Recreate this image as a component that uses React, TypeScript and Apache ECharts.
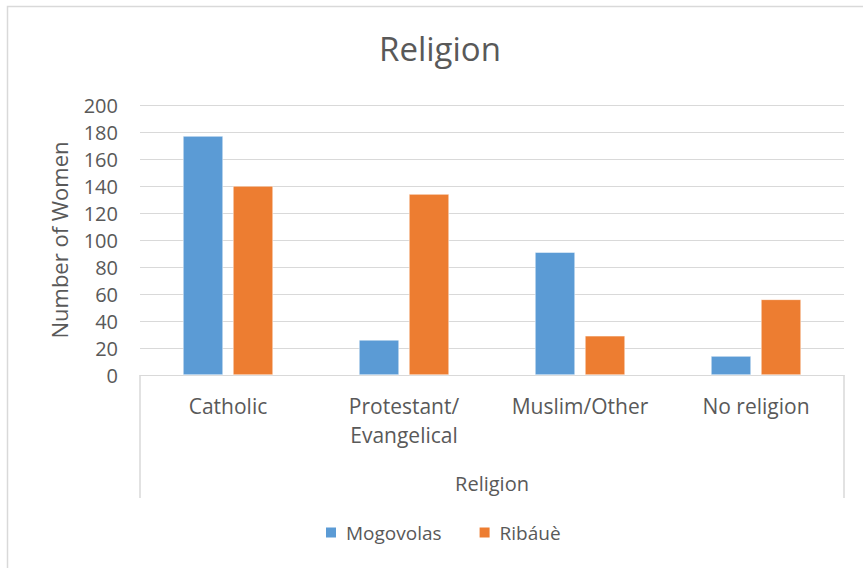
import React, { useEffect, useRef } from "react";
import * as echarts from "echarts";

const categories = ["Catholic", "Protestant/\nEvangelical", "Muslim/Other", "No religion"];
const mogovolas = [177, 26, 91, 14];
const ribaue = [140, 134, 29, 56];
const seriesNames = ["Mogovolas", "Ribáuè"];

const W = 863;
const H = 568;
const GRID = { left: 140, right: 19, top: 105, bottom: 193 };
const TEXT = "#595959";
const LINE = "#d9d9d9";
const FONT = "'Open Sans', sans-serif";

export default function App() {
  const ref = useRef<HTMLDivElement>(null);

  useEffect(() => {
    if (!ref.current) return;
    const chart = echarts.init(ref.current, undefined, { renderer: "svg" });
    const axisBottom = H - GRID.bottom;
    chart.setOption({
      animation: false,
      backgroundColor: "#ffffff",
      textStyle: { fontFamily: FONT, color: TEXT },
      title: {
        text: "Religion",
        left: 435,
        textAlign: "center",
        top: 27,
        textStyle: { fontFamily: FONT, fontSize: 33, fontWeight: "normal", color: TEXT },
      },
      legend: {
        bottom: 21,
        left: 319,
        itemWidth: 12,
        itemHeight: 12,
        itemGap: 36,
        icon: "rect",
        textStyle: { fontFamily: FONT, fontSize: 19, color: TEXT, padding: [0, 0, 0, 4] },
        data: seriesNames,
      },
      grid: { ...GRID, containLabel: false },
      xAxis: {
        type: "category",
        data: categories,
        name: "Religion",
        nameLocation: "middle",
        nameGap: 98,
        nameTextStyle: { fontFamily: FONT, fontSize: 20, color: TEXT },
        axisLine: { lineStyle: { color: LINE, width: 1 } },
        axisTick: { show: false },
        axisLabel: {
          fontFamily: FONT,
          fontSize: 21,
          color: TEXT,
          margin: 16,
          lineHeight: 29,
          interval: 0,
        },
      },
      yAxis: {
        type: "value",
        min: 0,
        max: 200,
        interval: 20,
        name: "Number of Women",
        nameLocation: "middle",
        nameGap: 70,
        nameTextStyle: { fontFamily: FONT, fontSize: 22, color: TEXT },
        axisLine: { show: false },
        axisTick: { show: false },
        axisLabel: { fontFamily: FONT, fontSize: 20, color: TEXT, margin: 22 },
        splitLine: { lineStyle: { color: LINE, width: 1 } },
      },
      series: [
        {
          name: seriesNames[0],
          type: "bar",
          data: mogovolas,
          barWidth: 40,
          barGap: "25%",
          itemStyle: { color: "#5b9bd5", borderColor: "#ffffff", borderWidth: 0.5 },
        },
        {
          name: seriesNames[1],
          type: "bar",
          data: ribaue,
          barWidth: 40,
          barGap: "25%",
          itemStyle: { color: "#ed7d31", borderColor: "#ffffff", borderWidth: 0.5 },
        },
      ],
      graphic: [
        {
          type: "rect",
          shape: { x: 7.5, y: 6.5, width: 900, height: 600 },
          style: { fill: "none", stroke: LINE, lineWidth: 1.5 },
          silent: true,
        },
        {
          type: "line",
          shape: { x1: GRID.left, y1: axisBottom, x2: GRID.left, y2: axisBottom + 123 },
          style: { stroke: LINE, lineWidth: 1.5 },
          silent: true,
        },
        {
          type: "line",
          shape: { x1: W - GRID.right, y1: axisBottom, x2: W - GRID.right, y2: axisBottom + 123 },
          style: { stroke: LINE, lineWidth: 1.5 },
          silent: true,
        },
      ],
    });
    return () => chart.dispose();
  }, []);

  return (
    <div
      ref={ref}
      style={{ position: "fixed", left: 0, top: 0, width: W, height: H, background: "#fff" }}
    />
  );
}
